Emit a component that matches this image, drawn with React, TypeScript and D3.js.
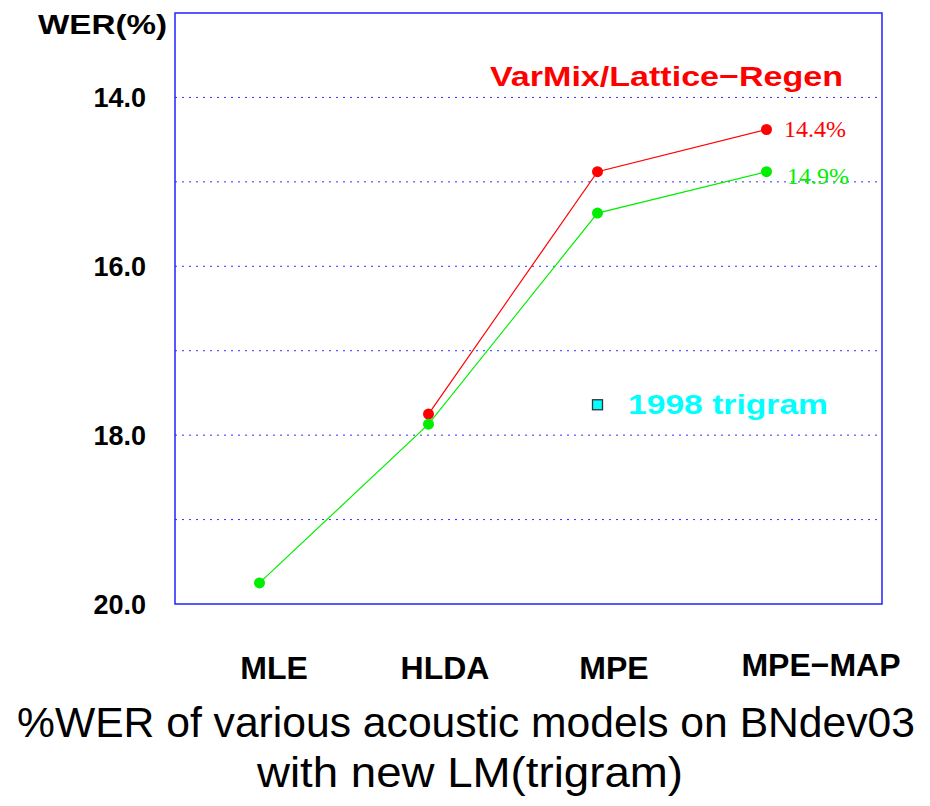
import React from "react";
import * as d3 from "d3";

const categories = ["MLE", "HLDA", "MPE", "MPE\u2212MAP"];
const redSeries = [null, 17.75, 14.88, 14.38];
const greenSeries = [19.75, 17.87, 15.37, 14.88];
const trigram1998 = { idx: 2, value: 17.64 };
const yTicks = [14, 16, 18, 20];
const gridTicks = [14, 15, 16, 17, 18, 19];
const redLabel = "14.4%";
const greenLabel = "14.9%";

export default function App() {
  const W = 930, H = 806;
  const left = 175, right = 882, top = 13, bottom = 604;
  const x = d3.scaleLinear().domain([0, 3]).range([259.5, 766.5]);
  const y = d3.scaleLinear().domain([13, 20]).range([top, bottom]);

  const line = d3
    .line<[number, number | null]>()
    .defined((d) => d[1] != null)
    .x((d) => x(d[0]))
    .y((d) => y(d[1] as number));

  const redPts: [number, number | null][] = redSeries.map((v, i) => [i, v]);
  const greenPts: [number, number | null][] = greenSeries.map((v, i) => [i, v]);

  const labelPos = [274, 445, 614, 821];
  const labelBase = [679, 679, 679, 676];
  const capFont = "'Liberation Sans Narrow', 'Liberation Sans', Arial, sans-serif";

  return (
    <svg width={W} height={H} style={{ position: "absolute", left: 0, top: 0, background: "#fff" }}>
      {gridTicks.map((t) => (
        <line key={t} x1={left} x2={right} y1={y(t)} y2={y(t)} stroke="#3333ff" strokeWidth={1} strokeDasharray="2,5" />
      ))}
      <rect x={left} y={top} width={right - left} height={bottom - top} fill="none" stroke="#2222ff" strokeWidth={1.5} />
      {yTicks.map((t) => (
        <text key={t} x={146} y={y(t) + 10} textAnchor="end" fontFamily="Liberation Sans, Arial, sans-serif" fontWeight="bold" fontSize={27} fill="#000">
          {t.toFixed(1)}
        </text>
      ))}
      <text x={38} y={34} fontFamily="Liberation Sans, Arial, sans-serif" fontWeight="bold" fontSize={28} textLength={129} lengthAdjust="spacingAndGlyphs" fill="#000">WER(%)</text>

      <path d={line(greenPts) || ""} fill="none" stroke="#00ee00" strokeWidth={1.2} />
      <path d={line(redPts) || ""} fill="none" stroke="#ff0000" strokeWidth={1.2} />
      {redPts.filter((d) => d[1] != null).map((d) => (
        <circle key={"r" + d[0]} cx={x(d[0])} cy={y(d[1] as number)} r={5.5} fill="#ff0000" />
      ))}
      {greenPts.map((d) => (
        <circle key={"g" + d[0]} cx={x(d[0])} cy={y(d[1] as number)} r={5.5} fill="#00ee00" />
      ))}
      <rect x={x(trigram1998.idx) - 5} y={y(trigram1998.value) - 5} width={10} height={10} fill="#00ffff" stroke="#333" strokeWidth={1.3} />

      <text x={490} y={86} fontFamily="Liberation Sans, Arial, sans-serif" fontWeight="bold" fontSize={28} textLength={353} lengthAdjust="spacingAndGlyphs" fill="#ff0000">VarMix/Lattice{"\u2212"}Regen</text>
      <text x={628} y={414} fontFamily="Liberation Sans, Arial, sans-serif" fontWeight="bold" fontSize={28} textLength={200} lengthAdjust="spacingAndGlyphs" fill="#00ffff">1998 trigram</text>
      <text x={784} y={137} fontFamily="Liberation Serif, Times New Roman, serif" fontSize={23} textLength={62} lengthAdjust="spacingAndGlyphs" fill="#ff0000">{redLabel}</text>
      <text x={787} y={184} fontFamily="Liberation Serif, Times New Roman, serif" fontSize={23} textLength={62} lengthAdjust="spacingAndGlyphs" fill="#00ee00">{greenLabel}</text>

      {categories.map((c, i) => (
        <text key={c} x={labelPos[i]} y={labelBase[i]} textAnchor="middle" fontFamily="Liberation Sans, Arial, sans-serif" fontWeight="bold" fontSize={32} fill="#000">{c}</text>
      ))}

      <text x={466} y={737} textAnchor="middle" fontFamily={capFont} fontSize={43} textLength={898} lengthAdjust="spacingAndGlyphs" fill="#000">%WER of various acoustic models on BNdev03</text>
      <text x={470} y={787} textAnchor="middle" fontFamily={capFont} fontSize={43} textLength={426} lengthAdjust="spacingAndGlyphs" fill="#000">with new LM(trigram)</text>
    </svg>
  );
}
